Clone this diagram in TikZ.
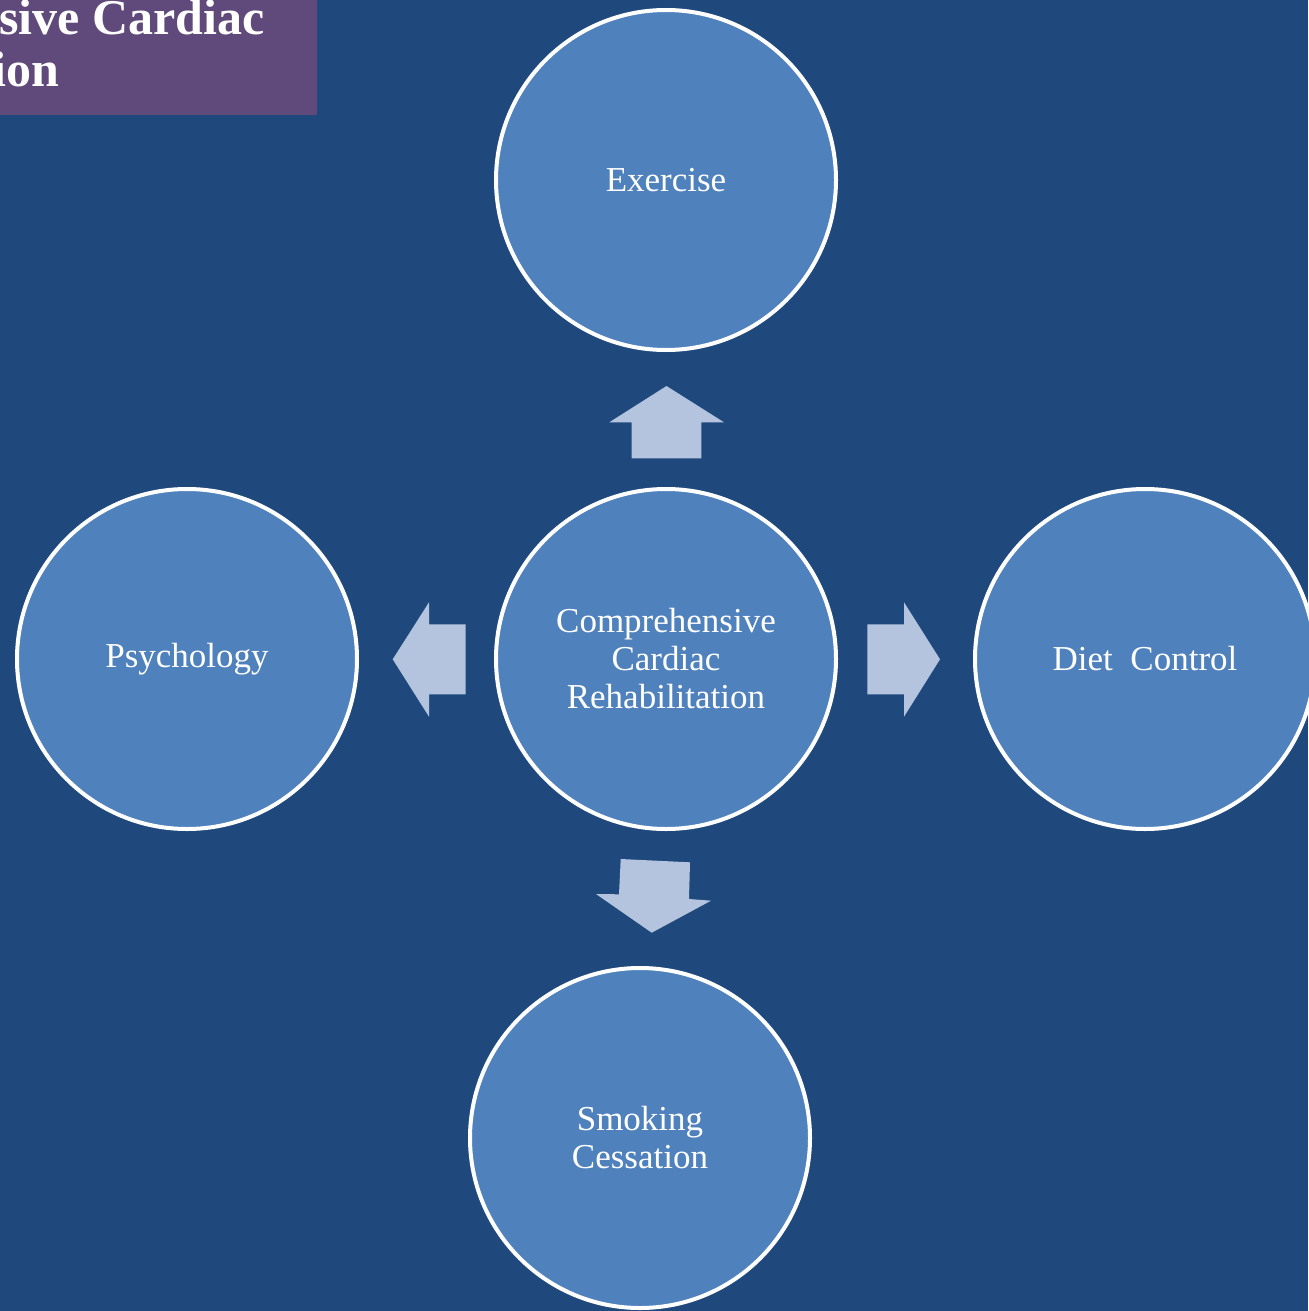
\documentclass[tikz,border=0pt]{standalone}
\usepackage{fontspec}
\setmainfont{Liberation Serif}
\definecolor{bgblue}{HTML}{1F497D}
\definecolor{circblue}{HTML}{4F81BD}
\definecolor{arrowblue}{HTML}{B4C4DE}
\definecolor{titlepurple}{HTML}{604A7B}
\tikzset{
  topic/.style={circle, draw=white, line width=2pt, fill=circblue, minimum size=170pt, inner sep=0pt,
    text=white, align=center, font=\fontsize{17.5}{19}\selectfont},
  titletext/.style={text=white, inner sep=0pt, font=\fontsize{25}{26}\selectfont\bfseries},
  blockarrow/.style={fill=arrowblue}
}
\begin{document}
\begin{tikzpicture}[x=0.5pt,y=-0.5pt]
\useasboundingbox (0,0) rectangle (1308,1311);
\fill[bgblue] (0,0) rectangle (1308,1311);
% title box (clipped)
\begin{scope}
\clip (0,0) rectangle (317,115);
\fill[titlepurple] (0,0) rectangle (317,115);
\node[titletext, anchor=base east] (t1) at (265,35) {Comprehensive Cardiac};
\node[titletext, anchor=base east] (t2) at (60,87) {Rehabilitation};
\end{scope}
% circles
\node[topic] (ex) at (666,180) {Exercise};
\node[topic] (ccr) at (666,659) {Comprehensive\\Cardiac\\Rehabilitation};
\node[topic] (psy) at (187,659) {Psychology};
\node[topic] (diet) at (1145,659) {Diet\ \ Control};
\node[topic] (smk) at (640,1138) {Smoking\\Cessation};
% block arrows
\fill[blockarrow] (666.5,386) -- (724,422.3) -- (701.3,422.3) -- (701.3,458.3) -- (631.7,458.3) -- (631.7,422.3) -- (609.3,422.3) -- cycle;
\fill[blockarrow] (620.7,859) -- (690,862.3) -- (689,899) -- (711,900.7) -- (651.7,932.7) -- (596,894) -- (619,894.3) -- cycle;
\fill[blockarrow] (392.7,659.3) -- (429,602.3) -- (429,624.3) -- (465.7,624.3) -- (465.7,694.3) -- (429,694.3) -- (429,716.7) -- cycle;
\fill[blockarrow] (940,659.3) -- (904,602.3) -- (904,624.3) -- (867.3,624.3) -- (867.3,694.3) -- (904,694.3) -- (904,716.7) -- cycle;
\end{tikzpicture}
\end{document}
